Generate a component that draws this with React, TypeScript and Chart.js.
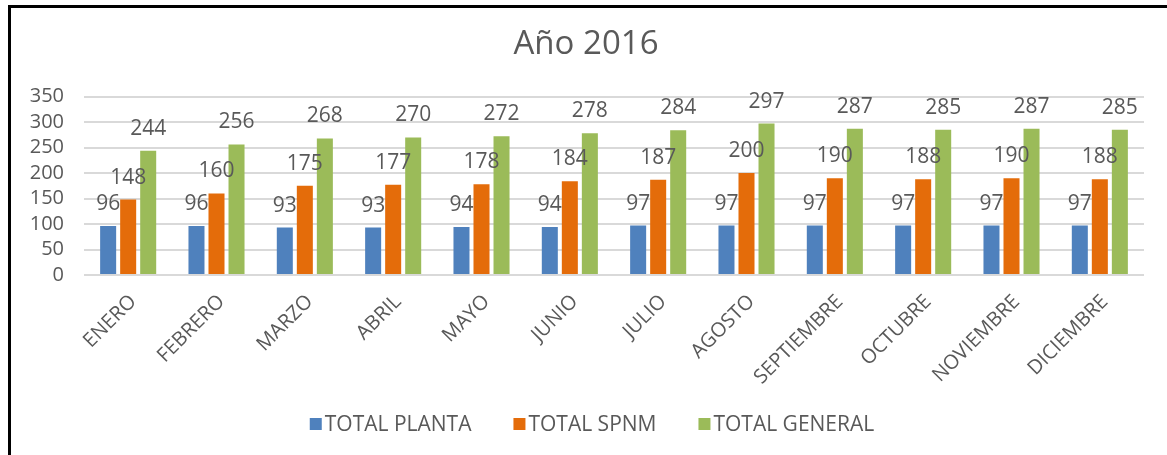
import { useEffect, useRef } from "react";
import { Chart, registerables } from "chart.js";

Chart.register(...registerables);

const months = ["ENERO", "FEBRERO", "MARZO", "ABRIL", "MAYO", "JUNIO", "JULIO", "AGOSTO", "SEPTIEMBRE", "OCTUBRE", "NOVIEMBRE", "DICIEMBRE"];
const totalPlanta = [96, 96, 93, 93, 94, 94, 97, 97, 97, 97, 97, 97];
const totalSpnm = [148, 160, 175, 177, 178, 184, 187, 200, 190, 188, 190, 188];
const totalGeneral = [244, 256, 268, 270, 272, 278, 284, 297, 287, 285, 287, 285];
const seriesNames = ["TOTAL PLANTA", "TOTAL SPNM", "TOTAL GENERAL"];
const seriesColors = ["#4F81BD", "#E46C0A", "#9BBB59"];
const yMin = 0;
const yMax = 350;
const yStep = 50;
const titleText = "Año 2016";

const FONT = "'Open Sans', sans-serif";
const TEXT = "#595959";

const framePlugin = {
  id: "frame",
  beforeDraw(chart: any) {
    const { ctx, width, height } = chart;
    ctx.save();
    ctx.fillStyle = "#ffffff";
    ctx.fillRect(0, 0, width, height);
    ctx.strokeStyle = "#000000";
    ctx.lineWidth = 3;
    ctx.beginPath();
    ctx.moveTo(9.5, height);
    ctx.lineTo(9.5, 6.5);
    ctx.lineTo(width, 6.5);
    ctx.stroke();
    ctx.restore();
  },
};

const dataLabelPlugin = {
  id: "dataLabels",
  afterDatasetsDraw(chart: any) {
    const { ctx } = chart;
    ctx.save();
    ctx.font = `21px ${FONT}`;
    ctx.fillStyle = TEXT;
    ctx.textAlign = "center";
    ctx.textBaseline = "middle";
    chart.data.datasets.forEach((ds: any, i: number) => {
      const meta = chart.getDatasetMeta(i);
      meta.data.forEach((el: any, j: number) => {
        ctx.fillText(String(ds.data[j]), el.x, el.y - 22);
      });
    });
    ctx.restore();
  },
};

const legendPlugin = {
  id: "customLegend",
  afterDraw(chart: any) {
    const { ctx } = chart;
    ctx.save();
    ctx.font = `21px ${FONT}`;
    ctx.textBaseline = "middle";
    ctx.textAlign = "left";
    const box = 12;
    const gapText = 3;
    const gapItem = 42;
    const items = chart.data.datasets.map((ds: any) => ({
      label: ds.label,
      color: ds.backgroundColor,
      w: ctx.measureText(ds.label).width,
    }));
    let total = 0;
    items.forEach((it: any, i: number) => {
      total += box + gapText + it.w + (i < items.length - 1 ? gapItem : 0);
    });
    let x = 592 - total / 2;
    const cy = 424;
    items.forEach((it: any) => {
      ctx.fillStyle = it.color;
      ctx.fillRect(x, cy - box / 2, box, box);
      ctx.fillStyle = TEXT;
      ctx.fillText(it.label, x + box + gapText, cy + 1);
      x += box + gapText + it.w + gapItem;
    });
    ctx.restore();
  },
};

export default function App() {
  const ref = useRef<HTMLCanvasElement | null>(null);

  useEffect(() => {
    if (!ref.current) return;
    const seriesData = [totalPlanta, totalSpnm, totalGeneral];
    const chart = new Chart(ref.current, {
      type: "bar",
      data: {
        labels: months,
        datasets: seriesNames.map((name, i) => ({
          label: name,
          data: seriesData[i],
          backgroundColor: seriesColors[i],
          borderWidth: 0,
          categoryPercentage: 0.68,
          barPercentage: 0.8,
        })),
      },
      options: {
        animation: false,
        responsive: false,
        maintainAspectRatio: false,
        layout: { padding: { left: 28, right: 23, top: 0, bottom: 50 } },
        plugins: {
          legend: { display: false },
          tooltip: { enabled: false },
          title: {
            display: true,
            text: titleText,
            color: TEXT,
            font: { family: FONT, size: 33, weight: "normal" },
            padding: { top: 25, bottom: 32 },
          },
        },
        scales: {
          x: {
            grid: { display: false, drawTicks: false },
            border: { display: false },
            ticks: {
              color: TEXT,
              font: { family: FONT, size: 20 },
              maxRotation: 45,
              minRotation: 45,
              padding: 15,
              labelOffset: 5,
              autoSkip: false,
            },
            afterFit(scale: any) {
              scale.height = 130;
            },
          },
          y: {
            min: yMin,
            max: yMax,
            ticks: {
              stepSize: yStep,
              autoSkip: false,
              color: TEXT,
              font: { family: FONT, size: 20 },
              padding: 20,
            },
            grid: { color: "#D9D9D9", lineWidth: 2, drawTicks: false },
            border: { display: false },
            afterFit(scale: any) {
              scale.width = 56;
            },
          },
        },
      },
      plugins: [framePlugin, dataLabelPlugin, legendPlugin],
    });
    return () => chart.destroy();
  }, []);

  return (
    <div style={{ position: "absolute", left: 0, top: 0, width: 1167, height: 455 }}>
      <canvas ref={ref} width={1167} height={455} style={{ display: "block", width: 1167, height: 455 }} />
    </div>
  );
}
